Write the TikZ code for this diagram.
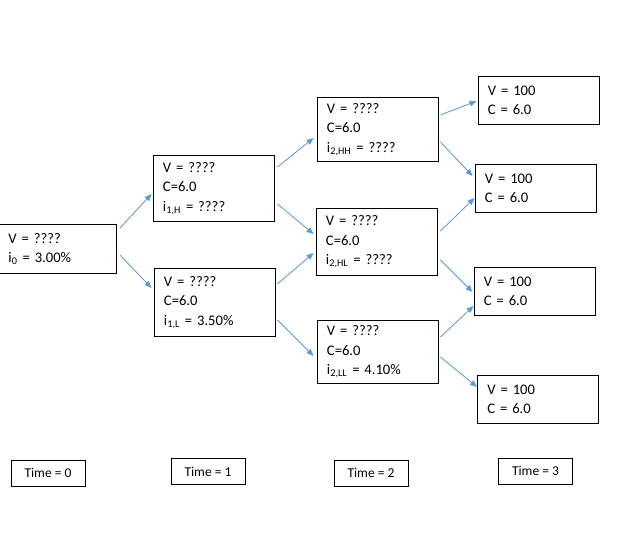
\documentclass[tikz,border=0pt]{standalone}
\usepackage{fontspec}
\setmainfont{Carlito}
\usetikzlibrary{arrows.meta}
\definecolor{treeblue}{RGB}{91,155,213}

\begin{document}
\begin{tikzpicture}[x=0.025cm, y=-0.025cm]
		\useasboundingbox (0,0) rectangle (631,543);
		\begin{scope}[every node/.style={draw, rectangle, semithick, align=left, inner xsep=0.25cm, inner ysep=0pt, text width=2.525cm, font=\fontsize{10.4}{13.8}\selectfont}]
		\node[text width=2.45cm, minimum height=1.225cm] (n0) at (57.5,249) {V = ????\\i\textsubscript{0} = 3.00\%};
		
		\node[minimum height=1.65cm] (n1h) at (213.5,188.5) {V = ????\\C=6.0\\i\textsubscript{1,H} = ????};
		\node[minimum height=1.7cm] (n1l) at (214.5,302.5) {V = ????\\C=6.0\\i\textsubscript{1,L} = 3.50\%};
		
		\node[minimum height=1.6cm] (n2hh) at (377.5,129.5) {V = ????\\C=6.0\\i\textsubscript{2,HH} = ????};
		\node[minimum height=1.675cm] (n2hl) at (376.5,242) {V = ????\\C=6.0\\i\textsubscript{2,HL} = ????};
		\node[minimum height=1.575cm] (n2ll) at (377.5,352) {V = ????\\C=6.0\\i\textsubscript{2,LL} = 4.10\%};
		
		\node[minimum height=1.2cm] (n3a) at (538.5,100.5) {V = 100\\C = 6.0};
		\node[minimum height=1.2cm] (n3b) at (535.5,188.5) {V = 100\\C = 6.0};
		\node[minimum height=1.2cm] (n3c) at (534.5,291.5) {V = 100\\C = 6.0};
		\node[minimum height=1.2cm] (n3d) at (538,399.5) {V = 100\\C = 6.0};
		\end{scope}
		
		\begin{scope}[every node/.style={draw, rectangle, semithick, align=center, inner sep=0pt, minimum width=1.85cm, minimum height=0.65cm, font=\fontsize{9.6}{12}\selectfont}]
		\node (t0) at (48,473) {Time = 0};
		\node (t1) at (208,471.5) {Time = 1};
		\node (t2) at (371,473) {Time = 2};
		\node (t3) at (535.5,471) {Time = 3};
		\end{scope}
		
		\begin{scope}[-{Triangle[length=5pt, width=4pt]}, color=treeblue, line width=0.6pt]
		\draw ([shift={(3,-21)}]n0.east) -- ([shift={(-1,5.5)}]n1h.west);
		\draw ([shift={(3,6)}]n0.east) -- ([shift={(-2,-14.5)}]n1l.west);
		
		\draw ([shift={(3,-21.5)}]n1h.east) -- ([shift={(-3,8.5)}]n2hh.west);
		\draw ([shift={(3,15.5)}]n1h.east) -- ([shift={(-2,-8)}]n2hl.west);
		\draw ([shift={(2,-18.5)}]n1l.east) -- ([shift={(-2,11)}]n2hl.west);
		\draw ([shift={(2,17.5)}]n1l.east) -- ([shift={(-3,4)}]n2ll.west);
		
		\draw ([shift={(2,-14.5)}]n2hh.east) -- ([shift={(-1,0.5)}]n3a.west);
		\draw ([shift={(2,12.5)}]n2hh.east) -- ([shift={(-2,-12.5)}]n3b.west);
		\draw ([shift={(3,-11)}]n2hl.east) -- ([shift={(0,9.5)}]n3b.west);
		\draw ([shift={(3,18)}]n2hl.east) -- ([shift={(-1,0.5)}]n3c.west);
		\draw ([shift={(2,-15)}]n2ll.east) -- ([shift={(0,14.5)}]n3c.west);
		\draw ([shift={(2,5)}]n2ll.east) -- ([shift={(0,-12.5)}]n3d.west);
		\end{scope}
		\end{tikzpicture}
\end{document}
